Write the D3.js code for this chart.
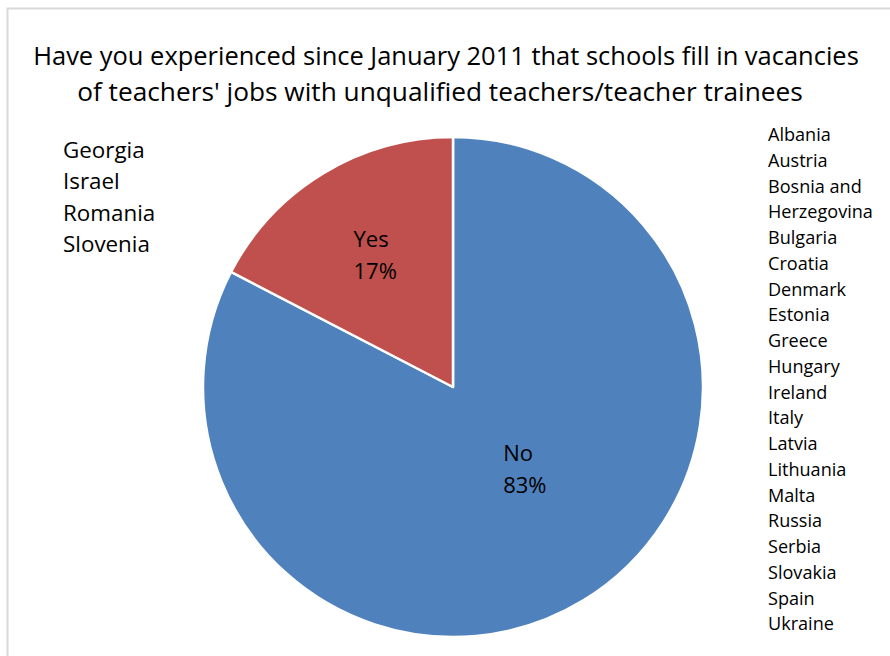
<!DOCTYPE html>
<html>
<head>
<meta charset="utf-8">
<script src="https://cdn.jsdelivr.net/npm/d3@7"></script>
<style>
  body { margin: 0; background: #fff; }
  svg text { font-family: "Open Sans", "DejaVu Sans", sans-serif; fill: #000; }
</style>
</head>
<body>
<div id="chart"></div>
<script>
var titleLines = ["Have you experienced since January 2011 that schools fill in vacancies",
                  "of teachers' jobs with unqualified teachers/teacher trainees"];
var categories = ["No", "Yes"];
var counts = [19, 4];
var percentLabels = ["83%", "17%"];
var yesCountries = ["Georgia", "Israel", "Romania", "Slovenia"];
var noCountries = ["Albania", "Austria", "Bosnia and", "Herzegovina", "Bulgaria", "Croatia",
  "Denmark", "Estonia", "Greece", "Hungary", "Ireland", "Italy", "Latvia", "Lithuania",
  "Malta", "Russia", "Serbia", "Slovakia", "Spain", "Ukraine"];
var colors = ["#4f81bd", "#c0504d"];

var width = 890, height = 656;
var svg = d3.select("#chart").append("svg")
  .attr("width", width).attr("height", height);

// chart frame
svg.append("rect")
  .attr("x", 7.5).attr("y", 8.5)
  .attr("width", width + 10).attr("height", height + 10)
  .attr("fill", "#fff").attr("stroke", "#d9d9d9").attr("stroke-width", 2);

// scale font so that text hits a target width
function fit(sel, target, base) {
  sel.style("font-size", base + "px");
  var w = sel.node().getComputedTextLength();
  var s = base * target / w;
  sel.style("font-size", s + "px");
  return s;
}

var t1 = svg.append("text").attr("x", 446).attr("y", 65).attr("text-anchor", "middle").text(titleLines[0]);
fit(t1, 826, 24);
var t2 = svg.append("text").attr("x", 440).attr("y", 101).attr("text-anchor", "middle").text(titleLines[1]);
fit(t2, 726, 24);

var cx = 453, cy = 387, radius = 250;
var pie = d3.pie().sort(null).value(function(d){ return d; });
var arc = d3.arc().innerRadius(0).outerRadius(radius);
var arcs = pie(counts);

var g = svg.append("g").attr("transform", "translate(" + cx + "," + cy + ")");
g.selectAll(".slice")
  .data(arcs).enter().append("path")
    .attr("class", "slice")
    .attr("d", arc)
    .attr("fill", function(d, i){ return colors[i]; })
    .attr("stroke", "#fff")
    .attr("stroke-width", 2.5)
    .attr("stroke-linejoin", "round");

// data labels (best fit inside the slices)
var labelR = [111, 151], labelShift = [-0.15, 0];
var lab = g.selectAll(".lbl")
  .data(arcs).enter().append("text")
    .attr("class", "lbl")
    .attr("transform", function(d, i){
      var a = (d.startAngle + d.endAngle) / 2 + labelShift[i];
      return "translate(" + (Math.sin(a) * labelR[i]) + "," + (-Math.cos(a) * labelR[i]) + ")";
    })
    .attr("text-anchor", "start")
    .style("font-size", "22px");
lab.append("tspan").attr("x", -21).attr("y", -11).text(function(d, i){ return categories[i]; });
lab.append("tspan").attr("x", -21).attr("y", 21).text(function(d, i){ return percentLabels[i]; });

// country text boxes
var left = svg.append("g");
left.selectAll("text").data(yesCountries).enter().append("text")
  .attr("x", 63).attr("y", function(d, i){ return 158 + i * 31.3; })
  .text(function(d){ return d; });
var ls = fit(left.selectAll("text").filter(function(d){ return d === "Slovenia"; }), 87, 20);
left.selectAll("text").style("font-size", ls + "px");

var right = svg.append("g");
right.selectAll("text").data(noCountries).enter().append("text")
  .attr("x", 768).attr("y", function(d, i){ return 141 + i * 25.75; })
  .text(function(d){ return d; });
var rs = fit(right.selectAll("text").filter(function(d){ return d === "Herzegovina"; }), 105, 17);
right.selectAll("text").style("font-size", rs + "px");
</script>
</body>
</html>
